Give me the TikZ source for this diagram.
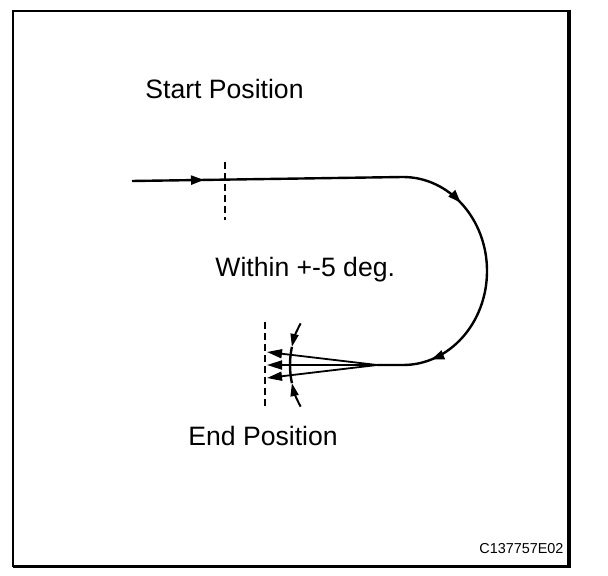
\documentclass[tikz,border=0pt]{standalone}
\usepackage{fontspec}
\setmainfont{Liberation Sans}
\usetikzlibrary{arrows.meta,decorations.markings}

\tikzset{
  trace/.style={line width=1.2pt},
  guide/.style={line width=0.8pt,dash pattern=on 3.5pt off 2pt},
  ray/.style={line width=0.9pt,-{Triangle[length=7.5pt,width=4.5pt]}},
  swing/.style={line width=1pt,-{Triangle[length=6.5pt,width=4pt]}},
  annot/.style={font=\fontsize{13.3}{16}\selectfont,anchor=base west,inner sep=0pt},
  headtip/.tip={Triangle[length=6.5pt,width=4.5pt]},
}

\begin{document}
\begin{tikzpicture}[x=0.5pt,y=-0.5pt]
\useasboundingbox (0,0) rectangle (608,576);
% frame with heavier right and bottom edge
\draw[line width=0.9pt] (13,11) rectangle (569,566);
\draw[line width=2pt] (569,10.2) -- (569,567.5);
\draw[line width=1.5pt] (12.5,566) -- (570,566);

\coordinate (entry) at (132,181);
\coordinate (bend) at (403,177);
\coordinate (focus) at (377,365);
\coordinate (tipA) at (267,352);
\coordinate (tipB) at (267,365);
\coordinate (tipC) at (267,378);
\coordinate (gateTop) at (225,162);
\coordinate (gateBot) at (225,220);
\coordinate (limitTop) at (265,322);
\coordinate (limitBot) at (265,407);

% travel path
\draw[trace,postaction=decorate,decoration={markings,
    mark=at position 36pt with {\arrow{headtip}},
    mark=at position 168pt with {\arrow{headtip}},
    mark=at position 261pt with {\arrow{headtip}}}]
  (entry) -- (bend) arc[start angle=-90,end angle=90,x radius=84,y radius=94] -- (focus);

% start and end marks
\draw[guide] (gateTop) -- (gateBot);
\draw[guide] (limitTop) -- (limitBot);

% end fan
\draw[ray] (focus) -- (tipA);
\draw[ray] (focus) -- (tipB);
\draw[ray] (focus) -- (tipC);

% tolerance arc
\draw[swing] (focus) ++(208.6:87) arc[start angle=208.6,end angle=192,radius=87];
\draw[trace] (focus) ++(192:87) arc[start angle=192,end angle=168,radius=87];
\draw[swing] (focus) ++(151.4:87) arc[start angle=151.4,end angle=168,radius=87];

\node[annot] (startlbl) at (145,99) {Start Position};
\node[annot] (within) at (215,277) {Within +-5 deg.};
\node[annot] (endlbl) at (188,445) {End Position};
\node[annot,font=\fontsize{7.2}{9}\selectfont] (code) at (479,553) {C137757E02};
\end{tikzpicture}
\end{document}
